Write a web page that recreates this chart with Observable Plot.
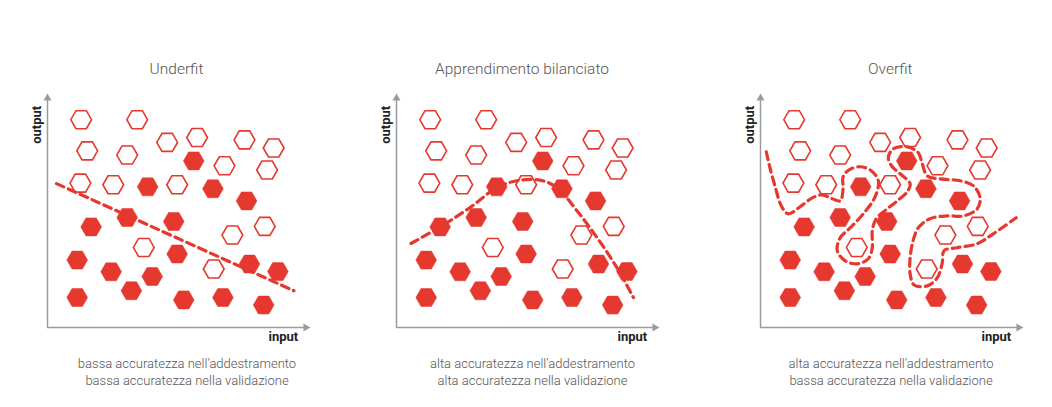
<!DOCTYPE html>
<html>
<head>
<meta charset="utf-8">
<script src="https://cdn.jsdelivr.net/npm/d3@7"></script>
<script src="https://cdn.jsdelivr.net/npm/@observablehq/plot@0.6"></script>
<style>
  html, body { margin: 0; padding: 0; background: #fff; }
  body { width: 1052px; height: 407px; position: relative; overflow: hidden; font-family: Roboto, "Open Sans", sans-serif; }
  .panel { position: absolute; top: 82.7px; }
  .title { position: absolute; top: 62px; font-weight: 300; font-size: 15.5px; line-height: 1; color: #555; transform: translateX(-50%); white-space: nowrap; }
  .cap { position: absolute; top: 354.5px; font-weight: 300; font-size: 13px; line-height: 17.5px; color: #555; transform: translateX(-50%); white-space: nowrap; text-align: center; }
</style>
</head>
<body>
<script>
// ---- data ----
const panelTitles = ["Underfit", "Apprendimento bilanciato", "Overfit"];
const captionTraining = ["bassa accuratezza nell’addestramento", "alta accuratezza nell’addestramento", "alta accuratezza nell’addestramento"];
const captionValidation = ["bassa accuratezza nella validazione", "alta accuratezza nella validazione", "bassa accuratezza nella validazione"];
const xLabel = "input";
const yLabel = "output";

// filled hexagons
const filledX = [55.6, 38.1, 62.9, 75.7, 30.3, 48.0, 16.6, 11.3, 49.3, 24.2, 39.8, 76.8, 87.6, 11.3, 31.9, 51.8, 66.7, 82.2];
const filledY = [71.2, 60.1, 59.3, 54.1, 47.0, 45.3, 43.0, 28.8, 31.4, 23.8, 21.8, 27.1, 23.9, 12.8, 15.7, 11.8, 12.8, 9.6];
// hollow hexagons
const hollowX = [12.8, 34.1, 45.5, 56.9, 74.9, 86.0, 15.1, 30.3, 67.3, 83.5, 12.5, 25.0, 49.3, 70.3, 82.6, 36.6, 63.2];
const hollowY = [88.8, 88.8, 79.1, 81.2, 80.2, 76.7, 75.5, 73.7, 69.1, 67.3, 61.7, 61.0, 61.0, 39.5, 43.2, 34.2, 25.0];

// model curves
const underfitX = [3.4, 93.7];
const underfitY = [61.5, 15.7];
const balancedX = [5.5, 16.6, 28.0, 38.2, 45.8, 54.6, 61.0, 68.6, 76.2, 83.8, 90.1];
const balancedY = [35.9, 43.0, 51.3, 59.8, 62.7, 63.0, 59.8, 49.9, 38.5, 25.6, 12.8];
const overfitX = [2.2, 3.7, 5.6, 7.9, 10.5, 15.1, 19.7, 23.5, 27.3, 30.3, 31.4, 31.4, 33.7, 37.9, 42.1, 44.8, 43.6, 39.4, 34.5, 30.3, 29.2, 32.2, 36.8, 41.0, 42.5, 42.5, 44.0, 48.2, 52.0, 55.8, 56.9, 53.1, 50.1, 48.6, 50.5, 55.8, 60.0, 61.5, 63.4, 68.3, 75.9, 80.9, 83.5, 82.4, 77.1, 71.0, 64.5, 60.0, 58.0, 56.9, 56.9, 58.4, 63.4, 67.2, 69.1, 69.8, 74.8, 82.4, 88.5, 97.2];
const overfitY = [75.1, 67.8, 60.1, 52.0, 48.6, 51.6, 55.4, 56.7, 55.0, 54.1, 59.3, 64.4, 67.4, 68.7, 67.0, 62.7, 55.9, 49.0, 43.0, 38.3, 32.8, 28.5, 27.2, 29.4, 34.1, 41.3, 46.5, 50.7, 54.1, 58.0, 61.4, 65.7, 68.7, 72.5, 76.4, 77.2, 74.7, 70.0, 64.8, 63.5, 62.7, 60.6, 55.4, 50.7, 47.7, 47.7, 46.5, 42.6, 37.0, 29.8, 22.9, 18.2, 17.8, 21.2, 27.6, 32.8, 34.1, 35.8, 40.0, 46.9];

const curvesX = [underfitX, balancedX, overfitX];
const curvesY = [underfitY, balancedY, overfitY];
const curveTypes = ["linear", "catmull-rom", "catmull-rom"];

// ---- layout ----
const panelLeft = [17, 366.3, 730.3];
const titleCenter = [176.5, 522, 890.3];
const capCenter = [187, 532.5, 891];
const RED = "#e5382e";
const GREY = "#9b9b9b";

const filled = filledX.map((x, i) => ({x, y: filledY[i]}));
const hollow = hollowX.map((x, i) => ({x, y: hollowY[i]}));

for (let p = 0; p < 3; p++) {
  const curve = curvesX[p].map((x, i) => ({x, y: curvesY[p][i]}));
  const chart = Plot.plot({
    width: 313,
    height: 269,
    marginLeft: 30,
    marginRight: 20,
    marginTop: 10,
    marginBottom: 25,
    x: {domain: [0, 100], axis: null},
    y: {domain: [0, 100], axis: null},
    style: {background: "transparent", overflow: "visible"},
    marks: [
      Plot.ruleY([0], {x1: 0, x2: 98, stroke: GREY, strokeWidth: 1.5}),
      Plot.ruleX([0], {y1: 0, y2: 98, stroke: GREY, strokeWidth: 1.5}),
      Plot.dot([{x: 98.2, y: 0}], {x: "x", y: "y", symbol: "triangle", rotate: 90, r: 3, fill: GREY}),
      Plot.dot([{x: 0, y: 98}], {x: "x", y: "y", symbol: "triangle", rotate: 0, r: 3, fill: GREY}),
      Plot.dot(hollow, {x: "x", y: "y", symbol: "hexagon", rotate: 90, r: 9, fill: "none", stroke: RED, strokeWidth: 1.6}),
      Plot.dot(filled, {x: "x", y: "y", symbol: "hexagon", rotate: 90, r: 9, fill: RED, stroke: RED, strokeWidth: 0.5}),
      Plot.line(curve, {x: "x", y: "y", curve: curveTypes[p], stroke: RED, strokeWidth: 3.2, strokeDasharray: "8,5"}),
      Plot.text([yLabel], {x: 0, y: 86.6, text: d => d, rotate: -90, dx: -11, fontWeight: 700, fontSize: 13, fill: "#222", fontFamily: "Roboto"}),
      Plot.text([xLabel], {x: 89.7, y: 0, text: d => d, dy: 4, lineAnchor: "top", fontWeight: 700, fontSize: 13, fill: "#222", fontFamily: "Roboto"})
    ]
  });
  chart.classList.add("panel");
  chart.style.left = panelLeft[p] + "px";
  document.body.appendChild(chart);

  const t = document.createElement("div");
  t.className = "title";
  t.style.left = titleCenter[p] + "px";
  t.textContent = panelTitles[p];
  document.body.appendChild(t);

  const c = document.createElement("div");
  c.className = "cap";
  c.style.left = capCenter[p] + "px";
  c.innerHTML = captionTraining[p] + "<br>" + captionValidation[p];
  document.body.appendChild(c);
}
</script>
</body>
</html>
